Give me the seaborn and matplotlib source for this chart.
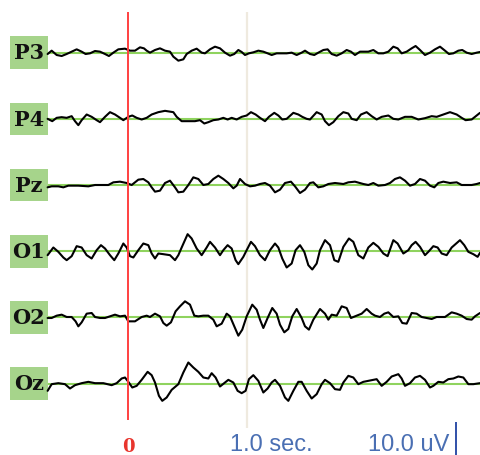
import pandas as pd
import matplotlib.pyplot as plt
from matplotlib.patches import Rectangle
import seaborn as sb

# channel names, top to bottom
channels = ['P3', 'P4', 'Pz', 'O1', 'O2', 'Oz']

# (time ms, amplitude uV)
p3 = [(-675, -0.4), (-641, 0.6), (-599, -0.7), (-557, -1.0), (-515, -0.4), (-473, 0.3), (-431, 1.0),
      (-389, 0.3), (-356, -0.4), (-319, -0.2), (-277, 0.5), (-235, 0.3), (-193, -0.4), (-160, -1.0),
      (-123, 0.0), (-81, 1.0), (-25, 1.2), (17, 0.6), (59, 0.6), (101, 1.6), (134, 1.3), (157, 0.6),
      (185, 0.0), (227, 0.8), (269, 1.3), (311, 0.6), (353, 0.3), (381, -1.2), (423, -2.4), (465, -2.0),
      (493, -0.4), (535, 0.6), (577, 1.2), (619, 0.0), (647, -0.2), (689, 1.0), (731, 1.8), (773, 1.3),
      (815, 0.0), (857, -0.9), (893, -0.4), (927, 0.8), (955, 0.2), (983, -0.7), (1016, -0.2),
      (1053, 0.1), (1095, 0.6), (1137, 0.3), (1173, -0.2), (1207, -0.7), (1249, -0.2), (1291, -0.2),
      (1333, -0.2), (1375, 0.0), (1417, -0.7), (1459, 0.0), (1487, 0.6), (1529, -0.4), (1565, -0.7),
      (1599, 0.0), (1641, 0.8), (1677, 1.0), (1711, -0.4), (1753, -0.9), (1795, -0.2), (1837, 0.8),
      (1873, 0.3), (1907, -0.7), (1949, 0.3), (1977, 0.3), (2019, 0.3), (2061, 0.8), (2103, -0.2),
      (2145, -0.2), (2187, 0.3), (2229, 1.8), (2265, 1.3), (2299, -0.2), (2341, 0.3), (2383, 1.3),
      (2416, 2.0), (2453, 0.8), (2495, -0.7), (2537, 0.0), (2579, 1.0), (2621, 1.8), (2663, 0.6),
      (2696, -0.4), (2733, -0.2), (2775, 0.6), (2808, 0.8), (2845, 0.0), (2887, -0.4), (2929, 0.0),
      (2957, 0.2)]

p4 = [(-675, 0.0), (-636, -0.7), (-599, 0.3), (-557, 0.5), (-515, 0.3), (-473, 0.8), (-445, -0.7),
      (-417, -1.9), (-389, -0.4), (-347, 1.3), (-305, 0.6), (-263, -0.4), (-235, -1.0), (-193, 0.6),
      (-151, 2.0), (-109, 1.3), (-67, 0.3), (-39, -0.4), (3, 0.6), (36, 1.0), (73, 0.3), (115, -0.2),
      (157, 0.3), (199, 1.3), (255, 2.0), (311, 2.4), (381, 2.0), (409, 0.6), (451, -0.7), (507, -0.7),
      (563, -0.7), (605, -0.4), (641, -1.4), (675, -1.0), (717, -0.4), (759, -0.2), (801, 0.3),
      (837, -0.2), (871, 0.3), (913, -0.2), (955, 0.6), (997, 1.0), (1033, 2.0), (1072, 1.3),
      (1109, 0.3), (1151, -0.7), (1184, 0.6), (1229, 1.8), (1263, 1.0), (1296, -0.2), (1333, 0.0),
      (1389, 1.8), (1431, 1.3), (1464, 0.6), (1501, 0.0), (1529, -0.2), (1585, 2.0), (1627, 1.3),
      (1655, -0.7), (1688, -1.9), (1725, -1.0), (1767, 0.8), (1809, 2.0), (1851, 1.6), (1879, 0.0),
      (1921, -0.4), (1957, 1.3), (2005, 2.0), (2047, 0.8), (2089, -0.2), (2131, 0.6), (2187, 1.0),
      (2229, 0.0), (2271, -0.2), (2327, 0.6), (2383, 0.6), (2439, -0.2), (2495, 0.2), (2551, 0.8),
      (2593, 0.6), (2649, 1.3), (2705, 2.0), (2761, 1.3), (2803, 0.3), (2836, -0.4), (2887, -0.2),
      (2929, 1.0), (2957, 1.8)]

pz = [(-675, -0.7), (-641, -0.4), (-585, -0.4), (-543, -0.7), (-501, -0.2), (-417, -0.2), (-333, -0.4),
      (-277, 0.0), (-165, 0.0), (-123, 0.8), (-67, 1.0), (-11, 0.6), (31, 0.0), (87, 1.6), (129, 1.8),
      (171, 0.8), (199, -0.7), (227, -2.0), (269, -1.7), (311, 0.6), (353, 1.3), (395, -0.7),
      (423, -2.2), (465, -2.0), (507, 0.0), (549, 2.3), (591, 1.8), (633, 0.0), (675, 0.3), (717, 1.8),
      (759, 2.8), (801, 1.8), (843, 0.6), (885, -1.0), (913, -0.2), (941, 1.8), (983, 0.3), (1025, -0.4),
      (1067, -0.2), (1109, 0.3), (1151, 0.6), (1193, -0.2), (1235, -2.2), (1277, -1.4), (1319, 0.6),
      (1369, 1.0), (1403, -0.4), (1445, -2.4), (1487, -1.4), (1529, 0.6), (1557, 0.8), (1599, -0.7),
      (1641, -0.4), (1683, 0.3), (1739, 0.6), (1809, 0.3), (1851, 0.8), (1907, 1.0), (1977, 0.3),
      (2019, 0.0), (2061, 0.6), (2103, -0.2), (2159, 0.0), (2201, 0.6), (2243, 1.8), (2285, 2.3),
      (2327, 1.3), (2369, -0.2), (2411, 0.3), (2453, 1.8), (2495, 1.3), (2537, -0.2), (2573, -0.7),
      (2607, 0.6), (2649, 1.0), (2705, 0.6), (2761, 0.8), (2803, 0.0), (2845, 0.0), (2887, 0.0),
      (2929, 0.3), (2957, 0.6)]

o1 = [(-675, -1.2), (-627, 1.1), (-585, -0.2), (-543, -1.9), (-515, -2.7), (-473, -1.5), (-431, 1.5),
      (-389, 1.1), (-347, -1.2), (-305, -2.2), (-263, 0.3), (-227, 1.8), (-193, 0.8), (-151, -1.2),
      (-115, -2.7), (-81, -0.7), (-39, 2.3), (-11, 1.1), (17, -1.5), (45, -1.9), (87, 0.3), (129, 2.3),
      (171, 1.8), (199, -0.7), (227, -2.2), (255, -0.7), (297, -0.9), (353, -1.2), (395, -2.7),
      (423, -1.2), (451, 1.1), (501, 5.1), (535, 3.8), (577, 0.8), (619, -1.2), (661, 1.1), (689, 2.8),
      (731, 1.1), (773, -1.2), (801, 0.3), (837, 1.8), (871, 0.8), (904, -2.7), (927, -3.9), (969, -1.7),
      (997, 0.3), (1033, 2.8), (1067, 1.5), (1109, -1.2), (1151, -2.7), (1193, 0.3), (1235, 2.3),
      (1263, 1.1), (1296, -2.2), (1333, -4.9), (1375, -3.7), (1408, 0.3), (1445, 1.8), (1481, -0.2),
      (1515, -4.2), (1548, -5.5), (1585, -3.7), (1613, 0.3), (1655, 3.3), (1697, 1.8), (1733, -2.7),
      (1767, -3.2), (1809, 1.3), (1856, 3.8), (1893, 2.8), (1935, -1.2), (1977, -2.2), (2019, 1.1),
      (2061, 2.5), (2103, 1.3), (2145, -0.7), (2181, -1.5), (2229, 3.3), (2265, 2.3), (2313, -0.7),
      (2355, 0.3), (2383, 1.8), (2416, 2.8), (2453, 1.3), (2495, -1.2), (2523, -0.2), (2565, 1.5),
      (2601, 1.1), (2635, -0.7), (2677, -1.2), (2719, 1.1), (2789, 3.3), (2825, 1.8), (2859, -0.2),
      (2901, -0.9), (2937, -1.7), (2957, -0.5)]

o2 = [(-675, -0.2), (-641, -0.2), (-599, 0.5), (-557, 0.8), (-515, 0.1), (-473, 0.1), (-440, -1.2),
      (-417, -2.7), (-389, -1.5), (-347, 1.1), (-305, 1.3), (-277, 0.1), (-235, -0.2), (-193, -0.2),
      (-151, 0.3), (-109, 0.8), (-67, 0.3), (-25, 0.5), (3, -1.2), (59, -1.2), (115, 0.1), (157, 0.5),
      (185, 0.1), (227, 1.1), (269, 0.3), (297, -1.7), (325, -2.5), (361, -1.5), (400, 1.8), (437, 3.3),
      (479, 4.8), (521, 3.8), (557, 0.5), (591, 0.3), (633, 0.5), (675, 0.5), (717, -0.7), (745, -2.7),
      (787, -1.9), (829, 1.1), (857, 0.3), (893, -2.7), (927, -5.5), (960, -3.7), (997, 0.3), (1044, 3.8),
      (1081, 2.3), (1109, -0.7), (1137, -3.2), (1173, -0.2), (1212, 2.8), (1249, 1.1), (1277, -2.2),
      (1313, -4.5), (1347, -3.5), (1380, 0.3), (1417, 2.5), (1459, -0.2), (1487, -2.7), (1520, -3.7),
      (1557, -0.7), (1613, 2.5), (1655, 1.1), (1683, -0.7), (1711, 0.8), (1753, 0.5), (1795, 3.3),
      (1837, 2.8), (1873, -0.2), (1921, 0.5), (1963, 1.1), (2005, 2.5), (2047, 1.1), (2075, 0.5),
      (2117, 0.1), (2153, 1.1), (2187, 1.5), (2229, 0.1), (2271, 0.3), (2304, -1.7), (2341, -1.9),
      (2383, 1.3), (2425, 1.1), (2467, 0.1), (2509, -0.2), (2551, -0.5), (2593, 0.1), (2663, 0.1),
      (2719, 1.5), (2761, 1.1), (2803, 0.5), (2845, -0.5), (2887, -0.7), (2915, 0.3), (2957, 1.3)]

oz = [(-675, -2.2), (-641, -0.2), (-585, 0.1), (-529, -0.2), (-487, -1.5), (-445, -0.5), (-389, 0.1),
      (-333, 0.5), (-277, 0.1), (-207, 0.1), (-137, -0.5), (-95, 0.1), (-53, 1.5), (-25, 1.8), (3, 0.5),
      (36, -1.2), (73, -0.7), (115, 1.1), (165, 3.5), (199, 2.5), (227, 0.3), (260, -3.7), (288, -5.2),
      (325, -4.2), (367, -1.9), (423, -0.2), (465, 3.3), (507, 6.3), (549, 4.8), (591, 3.5), (633, 1.8),
      (675, 1.5), (703, 3.1), (736, 1.8), (773, -0.9), (815, 0.3), (843, 1.1), (885, 0.3), (921, -2.2),
      (955, -2.9), (988, -2.2), (1016, 1.3), (1053, 2.5), (1095, 0.8), (1137, -2.7), (1173, -1.5),
      (1207, 0.3), (1235, 1.1), (1277, -0.7), (1319, -4.2), (1347, -5.2), (1389, -2.2), (1431, 0.5),
      (1459, 0.5), (1501, -2.2), (1543, -4.5), (1585, -3.2), (1627, -0.2), (1655, 1.1), (1697, 0.1),
      (1739, -1.7), (1781, -1.9), (1809, 0.3), (1851, 2.3), (1893, 1.8), (1935, -0.2), (1977, 0.5),
      (2019, 0.8), (2061, 1.1), (2089, 1.3), (2131, -0.7), (2173, 0.5), (2215, 2.1), (2271, 2.8),
      (2299, 1.5), (2327, -0.7), (2369, 0.1), (2411, 1.8), (2453, 2.3), (2495, 1.1), (2537, -1.2),
      (2565, -0.7), (2607, 0.5), (2649, 0.3), (2691, 1.3), (2733, 1.5), (2775, 2.1), (2817, 1.8),
      (2859, -0.2), (2901, -0.2), (2957, 0.1)]

traces = [p3, p4, pz, o1, o2, oz]

# layout: 1 uV ~ 3.33 px, 1 ms ~ 0.119 px
gap = 19.85
top = -15.8
offsets = [top - i * gap for i in range(len(channels))]

rows = []
for name, tr, off in zip(channels, traces, offsets):
    for t, v in tr:
        rows.append((name, t, v, off + v))
df = pd.DataFrame(rows, columns=['channel', 'ms', 'uV', 'y'])

sb.set_style('white')
fig = plt.figure(figsize=(4.8, 4.55), dpi=100)
ax = fig.add_axes([0, 0, 1, 1])
ax.set_xlim(-1075, 2957)
ax.set_ylim(-136.5, 0)
ax.axis('off')

green = '#8fd35e'
box = '#a6d48b'
# baselines and labels
for name, off in zip(channels, offsets):
    ax.hlines(off, -700, 2957, color=green, lw=1.5, zorder=1)
    ax.add_patch(Rectangle((-991, off - 4.9), 320, 9.8, facecolor=box, edgecolor='none', zorder=1))
    ax.text(-832, off - 0.2, name, ha='center', va='center', fontsize=15,
            fontweight='bold', family='DejaVu Serif', color='#111111', zorder=3)

# time markers
ax.vlines(1000, -128.4, -3.6, color='#efeadf', lw=1.6, zorder=0)
ax.vlines(0, -126, -3.6, color='#ff4040', lw=1.4, zorder=4)

sb.lineplot(data=df, x='ms', y='y', units='channel', estimator=None, sort=False,
            color='black', lw=1.5, ax=ax, zorder=2, legend=False)
ax.set_xlabel('')
ax.set_ylabel('')

ax.text(0, -135.6, '0', ha='center', va='baseline', fontsize=13, fontweight='bold',
        family='DejaVu Serif', color='#e8352d')
ax.text(857, -135.2, '1.0 sec.', ha='left', va='baseline', fontsize=17,
        family='Liberation Sans', color='#4a6fb3')
ax.text(2016, -135.2, '10.0 uV', ha='left', va='baseline', fontsize=17,
        family='Liberation Sans', color='#4a6fb3')
# 10 uV scale bar
ax.vlines(2755, -136.5, -126.5, color='#3050a8', lw=1.4)

fig.savefig('out.png', dpi=100)
